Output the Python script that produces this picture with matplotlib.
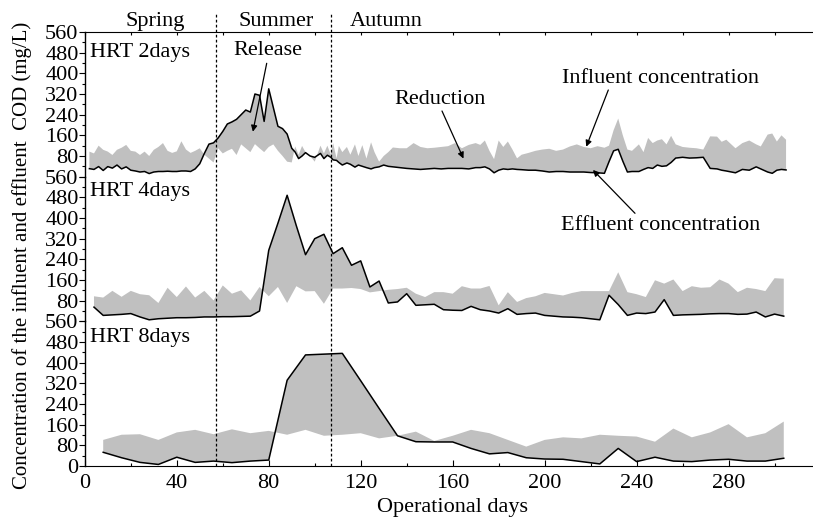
import matplotlib
matplotlib.use("Agg")
import matplotlib.pyplot as plt
from matplotlib.ticker import MultipleLocator

plt.rcParams['font.family'] = ['Liberation Serif', 'DejaVu Serif']

# ---------------- data ----------------
days_2d = [2, 4, 6, 8, 10, 12, 14, 16, 18, 20, 22, 24, 26, 28, 30, 32, 34, 36, 38, 40, 42, 44, 46, 48, 50, 52, 54, 56,
           58, 60, 62, 64, 66, 68, 70, 72, 74, 76, 78, 80, 82, 84, 86, 88,
           90, 91.5, 93, 94.5, 96, 98, 100, 102.5, 104, 105.5, 107, 108, 109.5, 110.5, 112, 114, 115.5, 117.5, 119,
           120.7, 122.5, 124.5, 126, 128, 130, 132, 134, 137, 140, 143, 146,
           149, 152, 155, 158, 161, 164, 167, 170, 172, 174, 176, 178, 180, 182, 184, 186, 188, 190, 193, 196,
           199, 202, 205, 208, 211, 214, 217, 220, 223, 226, 228, 230, 232, 234, 236, 238, 241, 243, 245, 247,
           249, 251, 253, 255, 257, 260, 263, 266, 269, 272, 275, 277, 279, 283, 286, 289, 292, 294, 297, 299,
           301, 303, 305]
influent_2d = [97, 90, 120, 104, 97, 84, 104, 112, 123, 100, 97, 84, 97, 80, 104, 115, 130, 100, 92, 98, 137, 105, 92, 100, 110, 85, 70, 55,
               110, 90, 100, 108, 84, 125, 110, 95, 126, 110, 95, 115, 125, 100, 80, 58,
               55, 117, 85, 119, 95, 80, 58, 120, 90, 120, 85, 130, 71, 119, 95, 115, 85, 125, 80,
               122, 70, 133, 95, 58, 80, 95, 113, 110, 110, 130, 115,
               110, 112, 115, 118, 130, 110, 123, 130, 123, 140, 100, 68, 140, 115, 136, 105, 71, 85, 92, 100,
               105, 108, 100, 105, 117, 125, 115, 110, 118, 112, 120, 180, 225, 160, 105, 100, 125, 95, 150, 130,
               140, 145, 125, 158, 125, 115, 112, 110, 105, 156, 155, 135, 143, 110, 130, 140, 125, 117, 163, 167,
               136, 160, 143]
effluent_2d = [31, 28, 39, 24, 39, 33, 45, 30, 38, 25, 22, 18, 20, 12, 18, 20, 20, 21, 20, 20, 22, 22, 20, 30, 50, 90, 126, 131,
               150, 175, 204, 212, 222, 240, 258, 250, 320, 315, 214, 340, 267, 195, 186, 165,
               110, 95, 70, 80, 93, 80, 75, 90, 70, 83, 75, 65, 63, 55, 45, 53, 48, 37, 45,
               40, 35, 30, 35, 38, 45, 40, 38, 35, 32, 30, 28,
               30, 32, 30, 32, 32, 32, 30, 35, 35, 38, 30, 15, 25, 30, 28, 30, 28, 27, 25, 25,
               22, 18, 20, 20, 18, 18, 18, 16, 15, 13, 58, 100, 106, 60, 18, 20, 20, 28, 35, 32,
               45, 40, 42, 55, 72, 75, 72, 73, 75, 32, 30, 25, 22, 15, 28, 25, 38, 30, 18, 13,
               25, 28, 26]

days_4d = list(range(4, 305, 4))
influent_4d = [97, 92, 118, 95, 118, 105, 101, 71, 130, 94, 135, 92, 118, 81, 139, 107, 120, 81, 133, 97,
               133, 71, 136, 116, 117, 68, 127, 127, 129, 125, 112, 117, 122, 125, 130, 107, 94, 113, 113, 107,
               136, 127, 127, 137, 62, 113, 75, 90, 97, 110, 105, 100, 110, 117, 117, 117, 117, 190, 113, 105,
               94, 159, 146, 162, 117, 136, 130, 132, 162, 146, 113, 130, 125, 117, 167, 165]
effluent_4d = [55, 23, 25, 27, 30, 17, 6, 10, 12, 14, 14, 15, 17, 17, 18, 18, 19, 20, 40, 275,
               380, 488, 370, 258, 320, 337, 262, 285, 217, 234, 133, 156, 71, 75, 107, 62, 64, 66, 45, 43,
               42, 58, 45, 40, 32, 49, 27, 30, 32, 23, 20, 17, 16, 14, 10, 6, 101, 65, 23, 32,
               30, 36, 84, 23, 25, 26, 27, 29, 30, 30, 27, 28, 36, 17, 28, 20]

days_8d = list(range(8, 305, 8))
influent_8d = [101, 121, 123, 101, 130, 140, 123, 142, 127, 136, 121, 140, 117, 121, 127, 107, 117, 133, 97, 117,
               140, 127, 101, 75, 101, 111, 107, 121, 117, 114, 94, 145, 111, 130, 162, 111, 127, 172]
effluent_8d = [53, 32, 14, 6, 34, 14, 19, 13, 19, 23, 332, 430, 433, 436, 330, 223, 117, 94, 93, 93,
               68, 47, 52, 32, 27, 26, 17, 8, 68, 17, 34, 19, 17, 23, 26, 19, 19, 30]

panel_labels = ['HRT 2days', 'HRT 4days', 'HRT 8days']
seasons = ['Spring', 'Summer', 'Autumn']
season_bounds = [57, 107]
y_ticks = [0, 80, 160, 240, 320, 400, 480, 560]
x_ticks = [0, 40, 80, 120, 160, 200, 240, 280]

# ---------------- layout ----------------
W, H = 813, 519
fig = plt.figure(figsize=(W / 100, H / 100), dpi=100)


def fx(px):
    return px / W


def fy(py):
    return 1 - py / H


left_px, right_px = 84.8, 812.5
top_px, bot_px = 32, 466
ph = (bot_px - top_px) / 3
FS = 16
GRAY = '#c0c0c0'

series = [(days_2d, influent_2d, effluent_2d),
          (days_4d, influent_4d, effluent_4d),
          (days_8d, influent_8d, effluent_8d)]

axes = []
for i, (d, inf, eff) in enumerate(series):
    t = top_px + i * ph
    ax = fig.add_axes([fx(left_px), fy(t + ph), (right_px - left_px) / W, ph / H])
    ax.patch.set_visible(False)
    ax.set_zorder(10 - i)
    ax.fill_between(d, inf, eff, facecolor=GRAY, edgecolor='none', lw=0)
    ax.plot(d, eff, color='black', lw=1.1)
    ax.set_xlim(0, 316.5)
    ax.set_ylim(0, 560)
    ax.set_yticks(y_ticks)
    if i < 2:
        ax.set_yticklabels([''] + [str(v) for v in y_ticks[1:]])
    else:
        ax.set_yticklabels([str(v) for v in y_ticks])
    ax.yaxis.set_minor_locator(MultipleLocator(40))
    ax.tick_params(axis='y', which='major', direction='out', length=4, width=0.8, pad=0.5, labelsize=FS)
    ax.tick_params(axis='y', which='minor', direction='out', length=2.5, width=0.8)
    for s in ['right', 'top', 'bottom']:
        ax.spines[s].set_visible(False)
    ax.spines['left'].set_linewidth(1.0)
    ext = 1.0 + (19 / ph if i == 0 else 0)
    for b in season_bounds:
        ax.axvline(b, ymin=0, ymax=ext, color='black', lw=0.9, ls=(0, (2.2, 1.8)), clip_on=False)
    axes.append(ax)

ax1, ax2, ax3 = axes
# top spine of first panel
ax1.spines['top'].set_visible(True)
ax1.xaxis.set_ticks_position('top')
ax1.set_xticks(list(range(0, 317, 20)))
ax1.tick_params(axis='x', which='major', direction='in', length=2.5, width=0.8, labeltop=False, labelbottom=False)
ax2.set_xticks([])
ax3.spines['bottom'].set_visible(True)
ax3.set_xticks(x_ticks)
ax3.xaxis.set_minor_locator(MultipleLocator(20))
ax3.tick_params(axis='x', which='major', direction='in', length=4, width=0.8, pad=6, labelsize=FS)
ax3.tick_params(axis='x', which='minor', direction='in', length=2.5, width=0.8)

# ---------------- text ----------------
season_x = [155, 276, 386]
for s, x in zip(seasons, season_x):
    fig.text(fx(x), fy(26), s, ha='center', va='baseline', fontsize=FS)

for lab, base in zip(panel_labels, [56.5, 196, 342]):
    fig.text(fx(90), fy(base), lab, ha='left', va='baseline', fontsize=FS)

fig.text(fx(22.5), fy(255), 'Concentration of the influent and effluent  COD (mg/L)',
         rotation=90, ha='center', va='center', fontsize=15)
fig.text(fx(452.5), fy(512), 'Operational days', ha='center', va='baseline', fontsize=FS)

# annotations: text + arrow
notes = [
    ('Release', 267.5, 55, (266.7, 63.3), (73.1, 174)),
    ('Reduction', 440, 104, (442, 111), (164.7, 70)),
    ('Influent concentration', 660, 82.7, (608.3, 90), (218.1, 116)),
    ('Effluent concentration', 661, 230, (635, 213.3), (221.0, 26)),
]
for txt, tx, tb, start, tip in notes:
    fig.text(fx(tx), fy(tb), txt, ha='center', va='baseline', fontsize=FS)
    ax1.annotate('', xy=tip, xycoords='data', xytext=(fx(start[0]), fy(start[1])),
                 textcoords='figure fraction', annotation_clip=False,
                 arrowprops=dict(arrowstyle='-|>', color='black', lw=0.9, mutation_scale=9,
                                 shrinkA=0, shrinkB=0))

fig.savefig('out.png', dpi=100)
